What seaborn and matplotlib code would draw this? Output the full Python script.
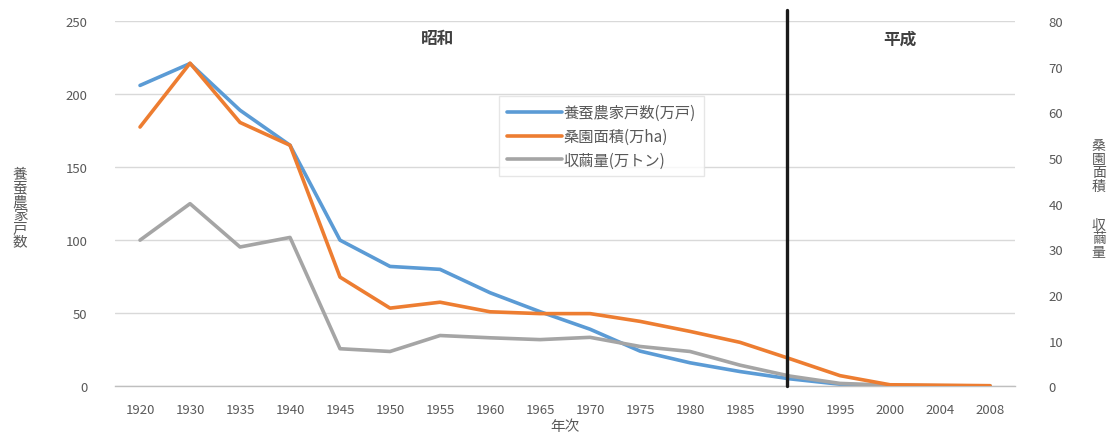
import matplotlib
matplotlib.use("Agg")
import matplotlib.pyplot as plt
import seaborn as sns
import pandas as pd

# 年次（カテゴリ軸）
years = ["1920", "1930", "1935", "1940", "1945", "1950", "1955", "1960", "1965",
         "1970", "1975", "1980", "1985", "1990", "1995", "2000", "2004", "2008"]
# 養蚕農家戸数（万戸）— 左軸
households = [206, 221, 189, 165, 100, 82, 80, 64, 51,
              39, 24, 16, 10, 5, 1.3, 0.3, 0.2, 0.1]
# 桑園面積（万ha）— 右軸
mulberry_area = [56.8, 70.8, 57.8, 52.8, 23.9, 17.1, 18.4, 16.3, 15.9,
                 15.9, 14.2, 12.0, 9.6, 6.0, 2.3, 0.3, 0.2, 0.1]
# 収繭量（万トン）— 右軸
cocoon = [32.0, 40.0, 30.5, 32.6, 8.2, 7.6, 11.1, 10.6, 10.2,
          10.7, 8.7, 7.6, 4.6, 2.2, 0.6, 0.2, 0.1, 0.05]

left_ticks = [0, 50, 100, 150, 200, 250]
right_ticks = [0, 10, 20, 30, 40, 50, 60, 70, 80]

series_names = ["養蚕農家戸数(万戸)", "桑園面積(万ha)", "収繭量(万トン)"]
colors = ["#5B9BD5", "#ED7D31", "#A5A5A5"]
text_color = "#595959"

sns.set_theme(style="white")
plt.rcParams["font.family"] = ["Noto Sans CJK JP", "DejaVu Sans"]

df = pd.DataFrame({"年次": years, "households": households,
                   "area": mulberry_area, "cocoon": cocoon})

fig = plt.figure(figsize=(11.2, 4.35), dpi=100)
ax = fig.add_axes([0.1027, 0.110, 0.8036, 0.839])
ax2 = ax.twinx()

sns.lineplot(data=df, x="年次", y="households", ax=ax, color=colors[0],
             linewidth=2.6, label=series_names[0], sort=False, legend=False)
sns.lineplot(data=df, x="年次", y="area", ax=ax2, color=colors[1],
             linewidth=2.6, label=series_names[1], sort=False, legend=False, zorder=3)
sns.lineplot(data=df, x="年次", y="cocoon", ax=ax2, color=colors[2],
             linewidth=2.6, label=series_names[2], sort=False, legend=False, zorder=2)

n = len(years)
ax.set_xlim(-0.5, n - 0.5)
ax.set_ylim(0, 250)
ax2.set_ylim(0, 80)
ax.set_yticks(left_ticks)
ax2.set_yticks(right_ticks)

ax.yaxis.grid(True, color="#D9D9D9", linewidth=1)
ax.xaxis.grid(False)
ax2.grid(False)

for a in (ax, ax2):
    for s in ("top", "left", "right", "bottom"):
        a.spines[s].set_visible(False)
ax.spines["bottom"].set_visible(True)
ax.spines["bottom"].set_color("#BFBFBF")
ax.spines["bottom"].set_linewidth(1)

# category boundary tick marks
ax.set_xticks([i - 0.5 for i in range(n + 1)], minor=True)
ax.tick_params(axis="x", which="minor", length=4, color="#D0D0D0", direction="out")
ax.tick_params(axis="x", which="major", length=0, pad=12, labelsize=9.5, labelcolor=text_color)
ax.tick_params(axis="y", length=0, pad=20, labelsize=9.5, labelcolor=text_color)
ax2.tick_params(axis="y", length=0, pad=24, labelsize=9.5, labelcolor=text_color)

ax.set_xlabel("年次", fontsize=10.5, color=text_color, labelpad=2)
ax.set_ylabel("")
ax2.set_ylabel("")

# axis titles with upright stacked characters
fig.text(0.018, 0.52, "\n".join("養蚕農家戸数"), fontsize=10.5, color=text_color,
         ha="center", va="center", linespacing=0.95)
fig.text(0.981, 0.617, "\n".join("桑園面積"), fontsize=10, color=text_color,
         ha="center", va="center", linespacing=0.95)
fig.text(0.981, 0.45, "\n".join("収繭量"), fontsize=10, color=text_color,
         ha="center", va="center", linespacing=0.95)

# era boundary (Showa / Heisei)
era_boundary = years.index("1990") - 0.06
ax2.axvline(era_boundary, ymin=0, ymax=1.03, color="#1a1a1a", linewidth=2.4,
            clip_on=False, zorder=5)
ax2.text(0.358, 0.955, "昭和", transform=ax.transAxes, fontsize=12,
         fontweight="bold", color="#404040", ha="center", va="center")
ax2.text(0.872, 0.952, "平成", transform=ax.transAxes, fontsize=12,
         fontweight="bold", color="#404040", ha="center", va="center")

handles = ax.get_lines()[:1] + [l for l in ax2.get_lines() if l.get_label() in series_names]
leg = ax2.legend(handles=handles, labels=series_names, loc="upper left",
                 bbox_to_anchor=(0.418, 0.815), frameon=True, fontsize=11,
                 handlelength=3.6, labelspacing=0.45, borderpad=0.5,
                 handletextpad=0.15, fancybox=False)
leg.get_frame().set_edgecolor("#E0E0E0")
leg.get_frame().set_linewidth(1)
for t in leg.get_texts():
    t.set_color(text_color)

fig.savefig("out.png", dpi=100, facecolor="white")
